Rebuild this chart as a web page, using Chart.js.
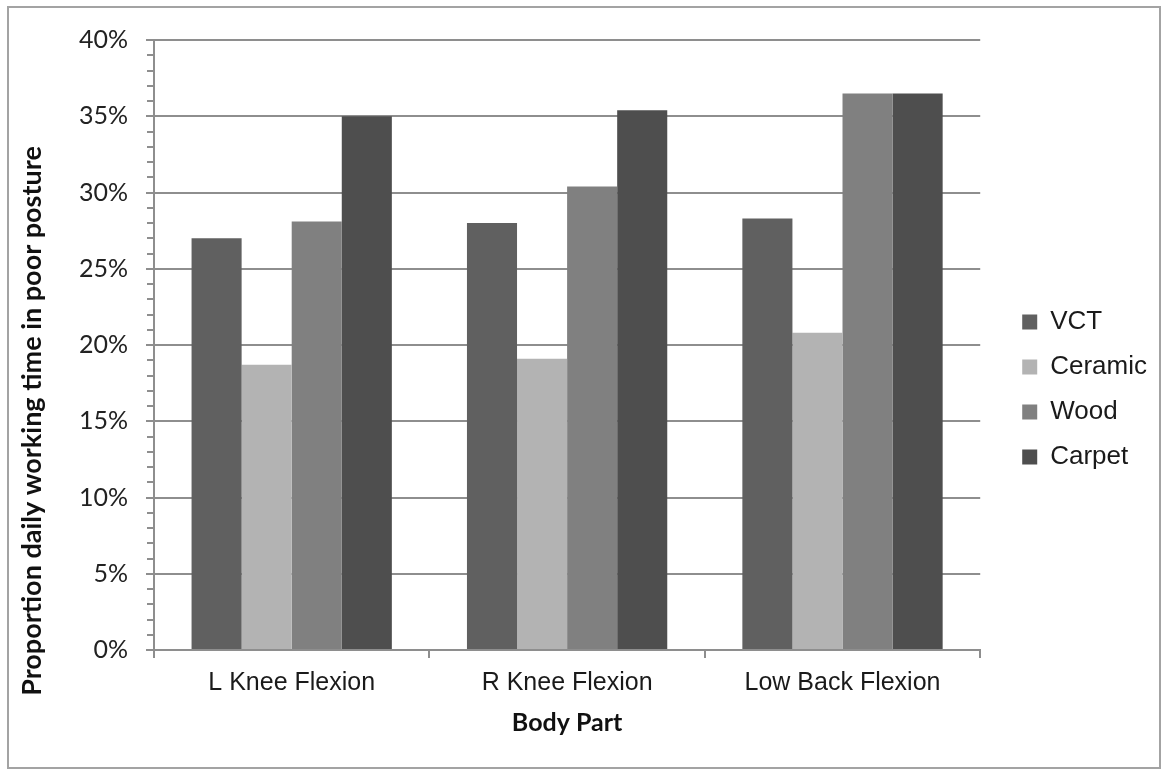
<!DOCTYPE html>
<html>
<head>
<meta charset="utf-8">
<script src="https://cdn.jsdelivr.net/npm/chart.js@4/dist/chart.umd.min.js"></script>
<style>
  html, body { margin: 0; padding: 0; background: #ffffff; }
  #wrap { position: relative; width: 1163px; height: 771px; }
</style>
</head>
<body>
<div id="wrap"><canvas id="c"></canvas></div>
<script>
// ---- data ----
const categories = ['L Knee Flexion', 'R Knee Flexion', 'Low Back Flexion'];
const seriesNames = ['VCT', 'Ceramic', 'Wood', 'Carpet'];
const vctValues = [27.0, 28.0, 28.3];
const ceramicValues = [18.7, 19.1, 20.8];
const woodValues = [28.1, 30.4, 36.5];
const carpetValues = [35.0, 35.4, 36.5];
const yMin = 0, yMax = 40, yStep = 5, yMinorStep = 1;
const xTitle = 'Body Part';
const yTitle = 'Proportion daily working time in poor posture';

const colors = ['#606060', '#b3b3b3', '#808080', '#4e4e4e'];
const gridColor = '#8e8e8e';

const frameAndTitle = {
  id: 'frameAndTitle',
  beforeDraw(chart) {
    const ctx = chart.ctx;
    ctx.save();
    ctx.fillStyle = '#ffffff';
    ctx.fillRect(0, 0, chart.width, chart.height);
    ctx.strokeStyle = '#a3a3a3';
    ctx.lineWidth = 2;
    ctx.strokeRect(8, 7, 1152, 761);
    ctx.restore();
  },
  afterDraw(chart) {
    const ctx = chart.ctx;
    const y = chart.scales.y;
    ctx.save();
    // minor ticks
    ctx.strokeStyle = gridColor;
    ctx.lineWidth = 2;
    for (let v = y.min; v <= y.max; v += yMinorStep) {
      if (v % yStep === 0) continue;
      const py = Math.round(y.getPixelForValue(v));
      ctx.beginPath();
      ctx.moveTo(y.right - 7, py);
      ctx.lineTo(y.right, py);
      ctx.stroke();
    }
    // y axis title
    ctx.fillStyle = '#111111';
    ctx.font = 'bold 27px Lato';
    ctx.textAlign = 'center';
    ctx.textBaseline = 'middle';
    ctx.translate(32, 421);
    ctx.rotate(-Math.PI / 2);
    ctx.fillText(yTitle, 0, 0);
    ctx.restore();
  }
};

new Chart(document.getElementById('c'), {
  type: 'bar',
  data: {
    labels: categories,
    datasets: [
      { label: seriesNames[0], data: vctValues, backgroundColor: colors[0] },
      { label: seriesNames[1], data: ceramicValues, backgroundColor: colors[1] },
      { label: seriesNames[2], data: woodValues, backgroundColor: colors[2] },
      { label: seriesNames[3], data: carpetValues, backgroundColor: colors[3] }
    ]
  },
  options: {
    responsive: true,
    maintainAspectRatio: false,
    devicePixelRatio: 1,
    animation: false,
    layout: { padding: { left: 8, right: 6, top: 40, bottom: 32 } },
    datasets: { bar: { categoryPercentage: 200 / 275, barPercentage: 1.0, borderWidth: 0 } },
    plugins: {
      legend: {
        position: 'right',
        align: 'center',
        labels: {
          font: { family: 'Liberation Sans', size: 26 },
          color: '#1a1a1a',
          boxWidth: 15,
          boxHeight: 15,
          padding: 19
        }
      },
      tooltip: { enabled: false },
      title: { display: false }
    },
    scales: {
      x: {
        grid: { display: true, drawOnChartArea: false, drawTicks: true, tickLength: 8, offset: true, color: gridColor, lineWidth: 2 },
        border: { display: true, color: gridColor, width: 2 },
        ticks: { font: { family: 'Liberation Sans', size: 25 }, color: '#1a1a1a', padding: 10, maxRotation: 0 },
        title: { display: true, text: xTitle, font: { family: 'Lato', size: 25, weight: 'bold' }, color: '#111111', padding: { top: 0, bottom: 1 } },
        afterFit: s => { s.height = 89; }
      },
      y: {
        min: yMin, max: yMax,
        grid: { color: gridColor, lineWidth: 2, tickLength: 8, drawTicks: true },
        border: { display: true, color: gridColor, width: 2 },
        ticks: { stepSize: yStep, font: { family: 'Lato', size: 25 }, color: '#222222', padding: 18, callback: v => v + '%' },
        afterFit: s => { s.width = 146; }
      },
      yPad: {
        position: 'right', display: true, min: yMin, max: yMax,
        grid: { display: false, drawTicks: false },
        border: { display: false },
        ticks: { display: false },
        afterFit: s => { s.width = 23; }
      }
    }
  },
  plugins: [frameAndTitle]
});
</script>
</body>
</html>
